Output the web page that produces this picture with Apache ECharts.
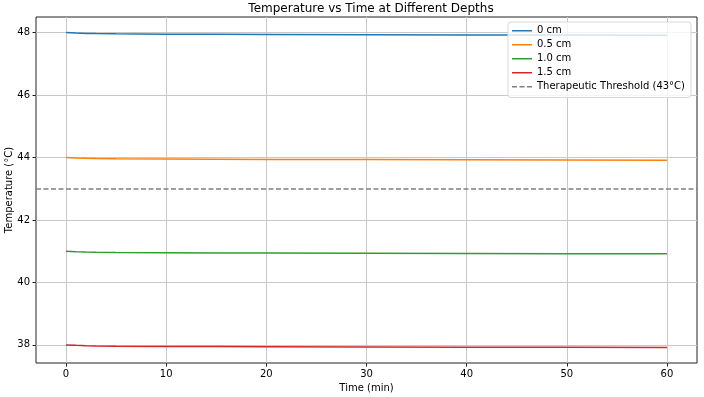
<!DOCTYPE html>
<html>
<head>
<meta charset="utf-8">
<script src="https://cdn.jsdelivr.net/npm/echarts@6/dist/echarts.min.js"></script>
<style>html,body{margin:0;padding:0;background:#fff}#c{width:704px;height:397px}</style>
</head>
<body>
<div id="c"></div>
<script>
var times = [0, 1, 2, 3, 5, 10, 15, 20, 30, 40, 50, 60];
var depth0 = [48.00, 47.985, 47.975, 47.968, 47.96, 47.95, 47.945, 47.94, 47.933, 47.927, 47.921, 47.916];
var depth05 = [44.00, 43.985, 43.975, 43.968, 43.96, 43.95, 43.945, 43.94, 43.933, 43.927, 43.921, 43.916];
var depth10 = [41.00, 40.985, 40.975, 40.968, 40.96, 40.95, 40.945, 40.94, 40.933, 40.927, 40.921, 40.916];
var depth15 = [38.00, 37.985, 37.975, 37.968, 37.96, 37.95, 37.945, 37.94, 37.933, 37.927, 37.921, 37.916];
var seriesNames = ['0 cm', '0.5 cm', '1.0 cm', '1.5 cm'];
var thresholdName = 'Therapeutic Threshold (43°C)';
var threshold = 43;
var xTicks = [0, 10, 20, 30, 40, 50, 60];
var yTicks = [38, 40, 42, 44, 46, 48];

var colors = ['#1f77b4', '#ff7f0e', '#2ca02c', '#d62728'];
var allSeries = [depth0, depth05, depth10, depth15];
var font = 'DejaVu Sans';

function pairs(vals) { return times.map(function (t, i) { return [t, vals[i]]; }); }

var series = allSeries.map(function (vals, k) {
  return {
    name: seriesNames[k], type: 'line', data: pairs(vals),
    showSymbol: false, symbol: 'none', smooth: false,
    lineStyle: { color: colors[k], width: 1.5 }, itemStyle: { color: colors[k] },
    z: 3
  };
});
series.push({
  name: thresholdName, type: 'line', data: [], symbol: 'none',
  lineStyle: { color: '#808080', width: 1.5, type: [5, 2.5] }, itemStyle: { color: '#808080' },
  markLine: {
    silent: true, symbol: ['none', 'none'], label: { show: false },
    lineStyle: { color: '#808080', width: 1.5, type: [5, 2.5] },
    data: [{ yAxis: threshold }], animation: false
  }
});

var legendData = seriesNames.map(function (n) { return { name: n, icon: 'rect' }; });
legendData.push({ name: thresholdName, icon: 'path://M0,0h5v1.5h-5z M7.5,0h5v1.5h-5z M15,0h5v1.5h-5z' });

var chart = echarts.init(document.getElementById('c'), null, { renderer: 'canvas' });
chart.setOption({
  animation: false,
  backgroundColor: '#fff',
  title: {
    text: 'Temperature vs Time at Different Depths', left: 366, top: -2, textAlign: 'center',
    textStyle: { fontFamily: font, fontSize: 12, fontWeight: 'normal', color: '#000' }
  },
  legend: {
    orient: 'vertical', right: 13, top: 22, itemWidth: 20, itemHeight: 1.5, itemGap: 2.5,
    padding: [3, 6, 5, 4],
    backgroundColor: 'rgba(255,255,255,0.8)', borderColor: '#d8d8d8', borderWidth: 1, borderRadius: 3,
    textStyle: { fontFamily: font, fontSize: 10, color: '#000', lineHeight: 11.5 },
    data: legendData
  },
  grid: { left: 36, right: 7, top: 17, bottom: 34, containLabel: false, outerBoundsMode: 'none',
          show: true, borderColor: '#222', borderWidth: 1, backgroundColor: 'transparent' },
  xAxis: {
    type: 'value', min: -3, max: 63,
    name: 'Time (min)', nameLocation: 'middle', nameGap: 20, nameMoveOverlap: false,
    nameTextStyle: { fontFamily: font, fontSize: 10, color: '#000' },
    axisLine: { show: false, onZero: false },
    axisTick: { show: true, customValues: xTicks, length: 3.5, lineStyle: { color: '#222' } },
    axisLabel: { customValues: xTicks, fontFamily: font, fontSize: 10, color: '#000', margin: 6 },
    splitLine: { show: true, lineStyle: { color: '#c8c8c8', width: 1 } }
  },
  yAxis: {
    type: 'value', min: 37.42, max: 48.5,
    name: 'Temperature (°C)', nameLocation: 'middle', nameGap: 22, nameRotate: 90, nameMoveOverlap: false,
    nameTextStyle: { fontFamily: font, fontSize: 10, color: '#000' },
    axisLine: { show: false, onZero: false },
    axisTick: { show: true, customValues: yTicks, length: 3.5, lineStyle: { color: '#222' } },
    axisLabel: { customValues: yTicks, fontFamily: font, fontSize: 10, color: '#000', margin: 6 },
    splitLine: { show: true, lineStyle: { color: '#c8c8c8', width: 1 } }
  },
  series: series
});
</script>
</body>
</html>
